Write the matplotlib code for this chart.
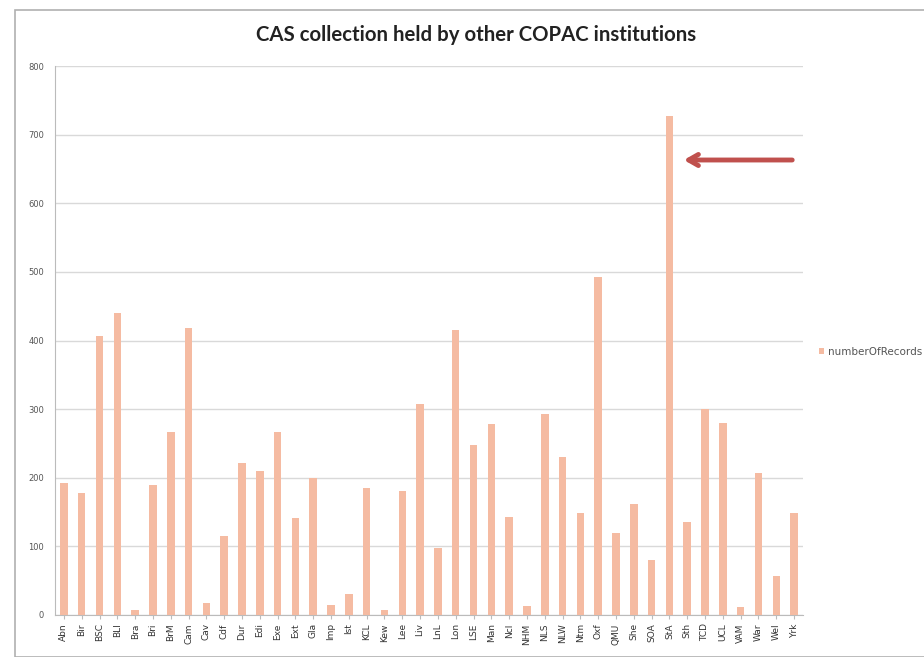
import matplotlib
matplotlib.use("Agg")
import matplotlib.pyplot as plt
from matplotlib.patches import Rectangle

categories = ["Abn", "Bir", "BSC", "BLI", "Bra", "Bri", "BrM", "Cam", "Cav", "Cdf",
              "Dur", "Edi", "Exe", "Ext", "Gla", "Imp", "Ist", "KCL", "Kew", "Lee",
              "Liv", "LnL", "Lon", "LSE", "Man", "Ncl", "NHM", "NLS", "NLW", "Ntm",
              "Oxf", "QMU", "She", "SOA", "StA", "Sth", "TCD", "UCL", "VAM", "War",
              "Wel", "Yrk"]
values = [193, 178, 407, 440, 8, 190, 267, 418, 17, 115,
          222, 210, 267, 142, 200, 15, 30, 185, 8, 180,
          307, 97, 415, 247, 278, 143, 13, 293, 230, 148,
          492, 120, 162, 80, 727, 136, 300, 280, 12, 207,
          57, 148]
yticks = [0, 100, 200, 300, 400, 500, 600, 700, 800]

fig = plt.figure(figsize=(9.24, 6.57), dpi=100)
fig.patches.append(Rectangle((15/924, 0), 1, 1 - 10/657, transform=fig.transFigure,
                             fill=False, edgecolor="#b0b0b0", linewidth=1.2))
ax = fig.add_axes([55/924, 42/657, 748/924, 549/657])
x = range(len(categories))
ax.bar(x, values, width=0.42, color="#F5BBA2", label="numberOfRecords", zorder=3)
ax.set_xlim(-0.5, len(categories) - 0.5)
ax.set_ylim(0, 800)
ax.set_yticks(yticks)
ax.set_yticklabels([str(v) for v in yticks], fontsize=6, color="#555555")
ax.set_xticks(list(x))
ax.set_xticklabels(categories, rotation=90, fontsize=6.5, color="#333333")
ax.grid(axis="y", color="#d9d9d9", linewidth=1, zorder=0)
for s in ["top", "right"]:
    ax.spines[s].set_visible(False)
ax.spines["left"].set_color("#bbbbbb")
ax.spines["bottom"].set_color("#bbbbbb")
ax.tick_params(axis="y", length=0, pad=8)
ax.tick_params(axis="x", length=3, color="#bbbbbb", pad=3)
fig.text(476/924, 1 - 35/657, "CAS collection held by other COPAC institutions",
         ha="center", va="center", fontsize=14.7, fontweight="bold",
         family="Lato", color="#222222")
fig.legend(handles=ax.containers[0][:1], labels=["numberOfRecords"],
           loc="center left", bbox_to_anchor=(819/924, 1 - 352/657),
           frameon=False, fontsize=7.5, handlelength=0.5, handleheight=0.5,
           handletextpad=0.4, borderaxespad=0, borderpad=0, labelcolor="#555555")
ax.annotate("", xy=(681/924, 1 - 160/657), xytext=(795/924, 1 - 160/657),
            xycoords="figure fraction", textcoords="figure fraction",
            arrowprops=dict(arrowstyle="->,head_length=0.7,head_width=0.4",
                            color="#C0504D", lw=3.5, capstyle="round",
                            joinstyle="round"))
fig.savefig("out.png", dpi=100)
